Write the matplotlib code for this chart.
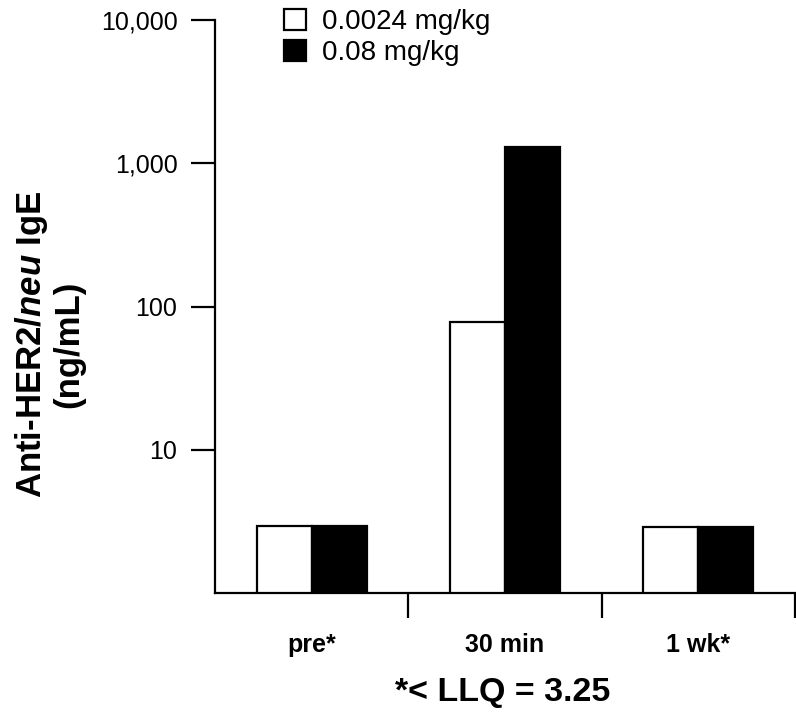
import matplotlib
matplotlib.use("Agg")
import matplotlib.pyplot as plt
import numpy as np
from matplotlib.ticker import FixedLocator, FixedFormatter

plt.rcParams['font.family'] = ['Liberation Sans', 'DejaVu Sans']
plt.rcParams['mathtext.fontset'] = 'custom'
plt.rcParams['mathtext.it'] = 'Liberation Sans:italic:bold'
plt.rcParams['mathtext.rm'] = 'Liberation Sans:bold'
plt.rcParams['mathtext.bf'] = 'Liberation Sans:bold'

categories = ["pre*", "30 min", "1 wk*"]
series_names = ["0.0024 mg/kg", "0.08 mg/kg"]
low_dose = [2.95, 78, 2.9]
high_dose = [2.95, 1300, 2.9]
ytick_values = [10, 100, 1000, 10000]
ytick_labels = ["10", "100", "1,000", "10,000"]
footnote = "*< LLQ = 3.25"

fig = plt.figure(figsize=(7.96, 7.13), dpi=100)
ax = fig.add_axes([215/796, 1 - 593/713, 580/796, (593 - 20)/713])

x = np.arange(len(categories))
w = 0.285
b1 = ax.bar(x - w/2, low_dose, width=w, color='white', edgecolor='black', linewidth=1.6, label=series_names[0])
b2 = ax.bar(x + w/2, high_dose, width=w, color='black', edgecolor='black', linewidth=1.6, label=series_names[1])

ax.set_yscale('log')
ax.set_ylim(1, 10000)
ax.set_xlim(-0.5, 2.5)
ax.yaxis.set_major_locator(FixedLocator(ytick_values))
ax.yaxis.set_major_formatter(FixedFormatter(ytick_labels))
ax.yaxis.set_minor_locator(FixedLocator([]))
ax.tick_params(axis='y', which='major', length=17, width=1.6, labelsize=18, pad=10, direction='out')

ax.set_xticks(x)
ax.set_xticklabels(categories, fontweight='bold', fontsize=18)
ax.set_xticks([0.5, 1.5, 2.5], minor=True)
ax.tick_params(axis='x', which='major', length=0, pad=29)
ax.tick_params(axis='x', which='minor', length=18, width=1.6, direction='out')

for s in ['top', 'right']:
    ax.spines[s].set_visible(False)
for s in ['left', 'bottom']:
    ax.spines[s].set_linewidth(1.6)

fig.text(49/796, 1 - 344/713, "Anti-HER2/$\\mathit{neu}$ IgE\n(ng/mL)", rotation=90,
         ha='center', va='center', fontsize=25, fontweight='bold', linespacing=1.1,
         multialignment='center')

fig.text(503/796, 1 - 692/713, footnote, ha='center', va='center', fontsize=24.5, fontweight='bold')

fig.legend(handles=[b1, b2], labels=series_names, loc='upper left',
           bbox_to_anchor=(278/796, 1 - 3/713), frameon=False, fontsize=20,
           handlelength=0.8, handleheight=0.8, handletextpad=0.6, labelspacing=0.18,
           borderaxespad=0, borderpad=0.2)

fig.savefig("out.png", dpi=100)
